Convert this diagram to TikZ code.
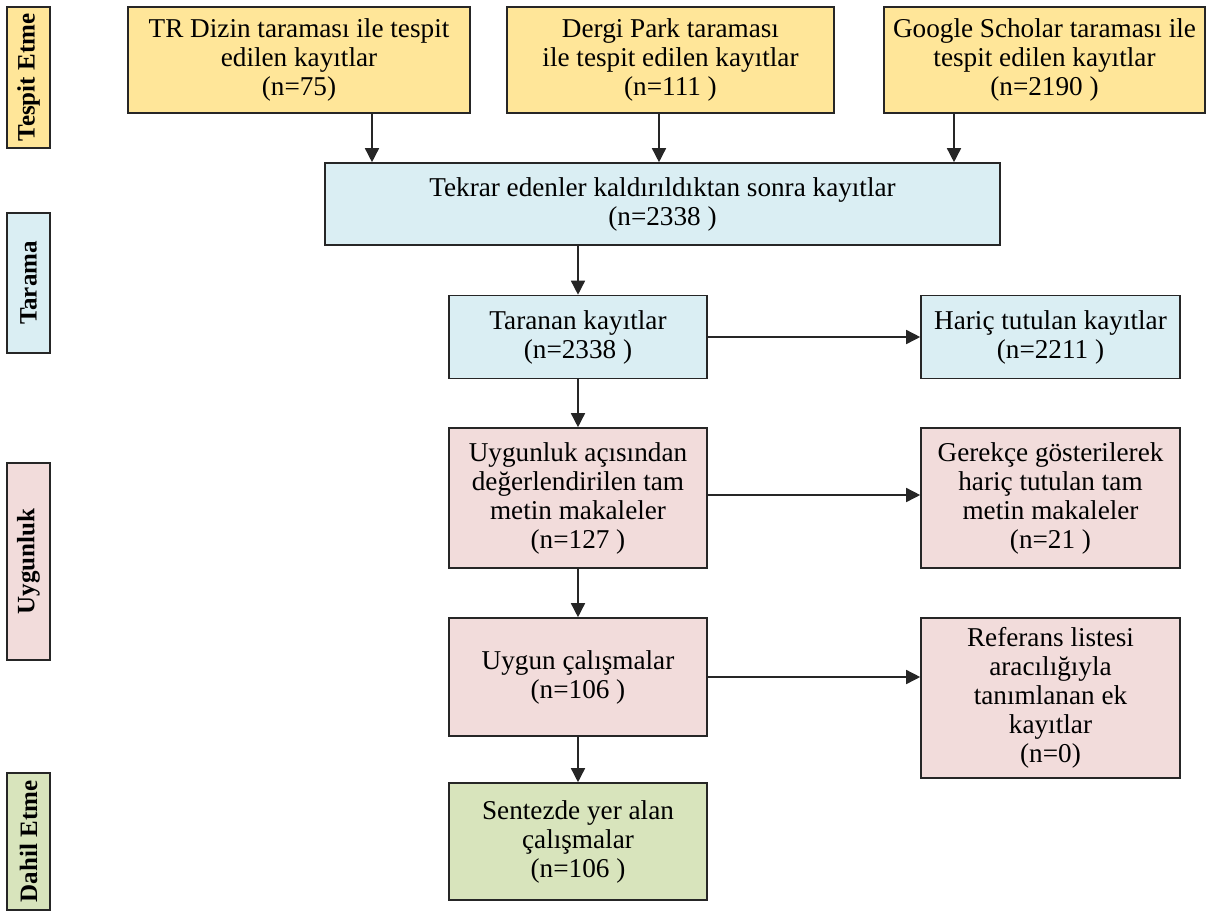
\documentclass[tikz,border=0pt]{standalone}
\usepackage{fontspec}
\setmainfont{Liberation Serif}
\usetikzlibrary{arrows.meta}
\definecolor{sari}{HTML}{FFE699}
\definecolor{mavi}{HTML}{DAEEF3}
\definecolor{pembe}{HTML}{F2DCDB}
\definecolor{yesil}{HTML}{D8E4BC}
\definecolor{cizgi}{HTML}{262626}
\tikzset{
  kutu/.style={draw=cizgi, line width=0.8pt, align=center, inner sep=2pt,
    font=\fontsize{13.6}{14.5}\selectfont},
  evre/.style={draw=cizgi, line width=0.8pt, rotate=90, inner sep=0pt,
    minimum height=21.5pt, font=\bfseries\fontsize{12.5}{14}\selectfont},
  ok/.style={draw=cizgi, line width=0.75pt, -{Triangle[length=7pt,width=7pt]}}
}
\begin{document}
\begin{tikzpicture}[x=0.5pt, y=-0.5pt]
  \useasboundingbox (0,0) rectangle (1211,911);
  % evreler
  \node[evre, fill=sari, minimum width=70.5pt] (tespit) at (28.5,77.5) {Tespit Etme};
  \node[evre, fill=mavi, minimum width=70pt] (tarama) at (28.5,283) {Tarama};
  \node[evre, fill=pembe, minimum width=98.5pt] (uygunluk) at (28.5,561.5) {Uygunluk};
  \node[evre, fill=yesil, minimum width=68.5pt] (dahil) at (28.5,841.5) {Dahil Etme};
  % tespit
  \node[kutu, fill=sari, minimum width=171pt, minimum height=53pt] (trdizin) at (299,60)
    {TR Dizin taraması ile tespit\\edilen kayıtlar\\(n=75)};
  \node[kutu, fill=sari, minimum width=163.5pt, minimum height=53pt] (dergi) at (670.5,60)
    {Dergi Park taraması\\ile tespit edilen kayıtlar\\(n=111 )};
  \node[kutu, fill=sari, minimum width=160.5pt, minimum height=53pt] (google) at (1044.5,60)
    {Google Scholar taraması ile\\tespit edilen kayıtlar\\(n=2190 )};
  % tarama
  \node[kutu, fill=mavi, minimum width=337.5pt, minimum height=41pt] (tekrar) at (662.5,204)
    {Tekrar edenler kaldırıldıktan sonra kayıtlar\\(n=2338 )};
  \node[kutu, fill=mavi, minimum width=129pt, minimum height=41.5pt] (taranan) at (578,337)
    {Taranan kayıtlar\\(n=2338 )};
  \node[kutu, fill=mavi, minimum width=129.5pt, minimum height=41.5pt] (haric) at (1050.5,337)
    {Hariç tutulan kayıtlar\\(n=2211 )};
  % uygunluk
  \node[kutu, fill=pembe, minimum width=129pt, minimum height=70pt] (tammetin) at (578,498)
    {Uygunluk açısından\\değerlendirilen tam\\metin makaleler\\(n=127 )};
  \node[kutu, fill=pembe, minimum width=129.5pt, minimum height=70pt] (gerekce) at (1050.5,498)
    {Gerekçe gösterilerek\\hariç tutulan tam\\metin makaleler\\(n=21 )};
  \node[kutu, fill=pembe, minimum width=129pt, minimum height=59pt] (uygun) at (578,677)
    {Uygun çalışmalar\\(n=106 )};
  \node[kutu, fill=pembe, minimum width=129.5pt, minimum height=80pt] (referans) at (1050.5,698)
    {Referans listesi\\aracılığıyla\\tanımlanan ek\\kayıtlar\\(n=0)};
  % dahil etme
  \node[kutu, fill=yesil, minimum width=129pt, minimum height=58.5pt] (sentez) at (578,841.5)
    {Sentezde yer alan\\çalışmalar\\(n=106 )};
  % oklar
  \draw[ok] ([xshift=36.5pt]trdizin.south) -- ([xshift=36.5pt]trdizin.south |- tekrar.north);
  \draw[ok] ([xshift=-5.75pt]dergi.south) -- ([xshift=-5.75pt]dergi.south |- tekrar.north);
  \draw[ok] ([xshift=-45.25pt]google.south) -- ([xshift=-45.25pt]google.south |- tekrar.north);
  \draw[ok] (taranan.north |- tekrar.south) -- (taranan.north);
  \draw[ok] (taranan) -- (tammetin);
  \draw[ok] (tammetin) -- (uygun);
  \draw[ok] (uygun) -- (sentez);
  \draw[ok] (taranan.east) -- (haric.west);
  \draw[ok] ([yshift=1.5pt]tammetin.east) -- ([yshift=1.5pt]gerekce.west);
  \draw[ok] (uygun.east) -- (uygun.east -| referans.west);
\end{tikzpicture}
\end{document}
